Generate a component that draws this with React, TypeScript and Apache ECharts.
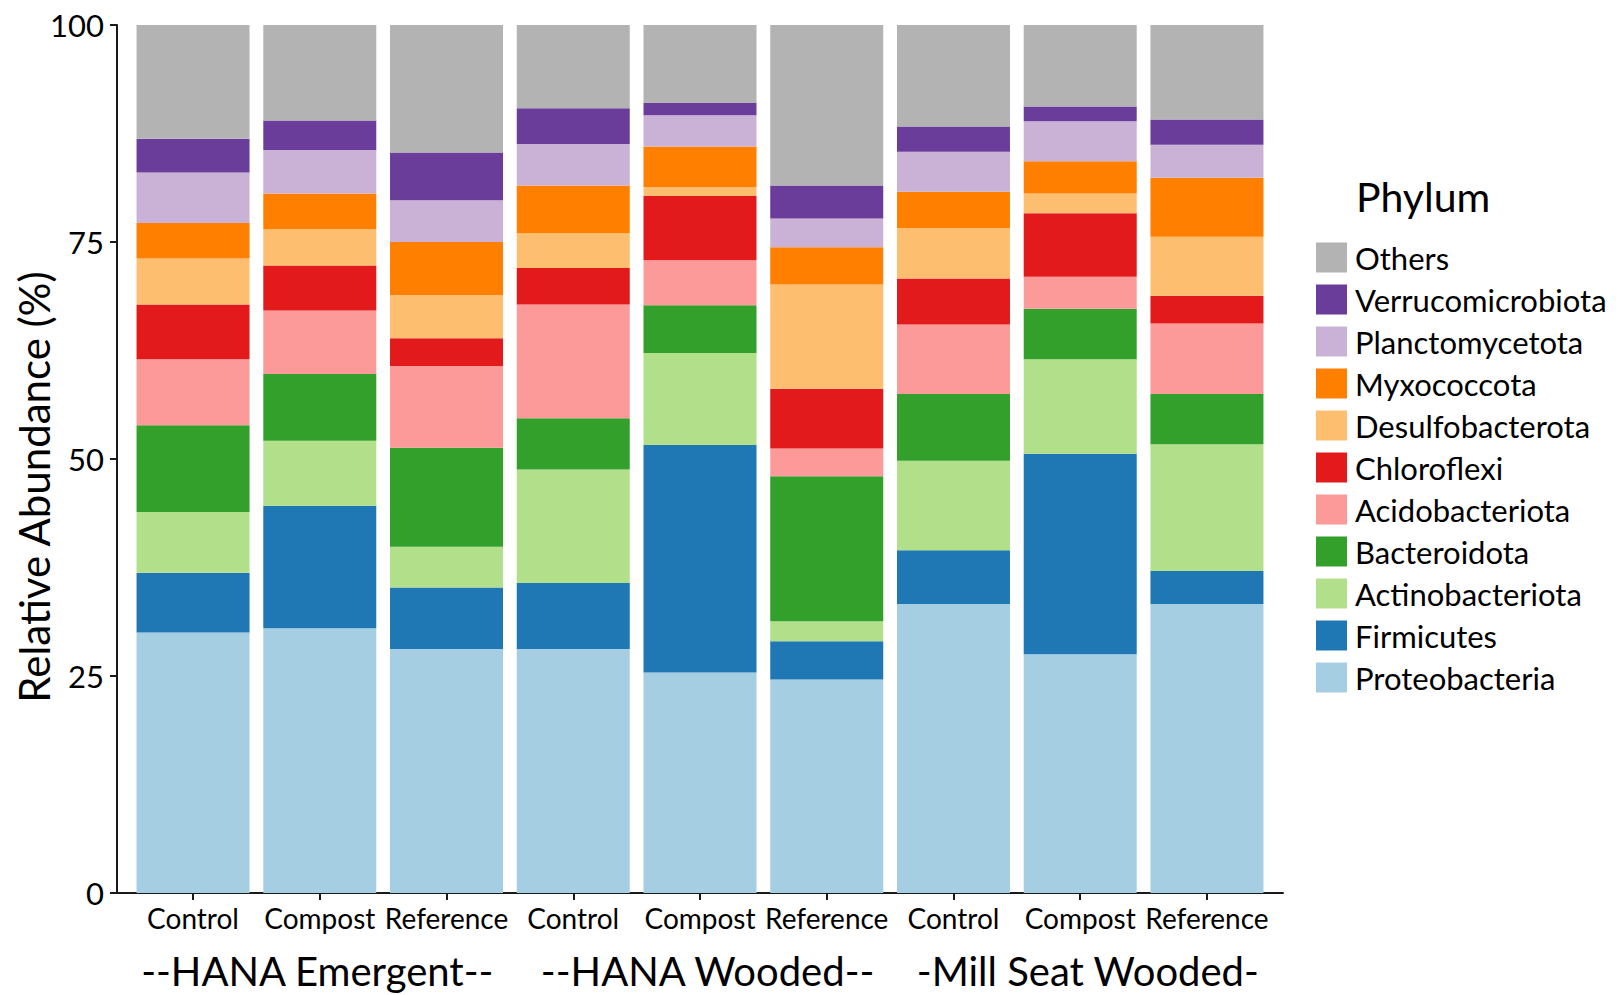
import React, { useEffect, useRef } from "react";
import * as echarts from "echarts";

// Samples along the x axis (three sites x three treatments)
const treatments = [
  "Control", "Compost", "Reference",
  "Control", "Compost", "Reference",
  "Control", "Compost", "Reference",
];
const sampleIds = treatments.map((t, i) => `${t}-${i}`);
const sites = ["--HANA Emergent--", "--HANA Wooded--", "-Mill Seat Wooded-"];
const yTicks = [0, 25, 50, 75, 100];

// Relative abundance (%) per phylum, one value per sample
const proteobacteria = [30.0, 30.5, 28.1, 28.1, 25.4, 24.6, 33.3, 27.5, 33.3];
const firmicutes = [6.9, 14.1, 7.1, 7.6, 26.2, 4.4, 6.2, 23.1, 3.8];
const actinobacteriota = [7.0, 7.5, 4.7, 13.1, 10.6, 2.3, 10.3, 10.9, 14.6];
const bacteroidota = [10.0, 7.7, 11.4, 5.9, 5.5, 16.7, 7.7, 5.8, 5.8];
const acidobacteriota = [7.6, 7.3, 9.4, 13.1, 5.2, 3.2, 8.0, 3.7, 8.1];
const chloroflexi = [6.3, 5.2, 3.2, 4.2, 7.4, 6.9, 5.3, 7.3, 3.2];
const desulfobacterota = [5.3, 4.2, 5.0, 4.0, 1.0, 12.0, 5.8, 2.3, 6.8];
const myxococcota = [4.1, 4.1, 6.1, 5.5, 4.7, 4.3, 4.2, 3.7, 6.8];
const planctomycetota = [5.8, 5.0, 4.8, 4.8, 3.6, 3.3, 4.6, 4.6, 3.8];
const verrucomicrobiota = [3.9, 3.4, 5.5, 4.1, 1.4, 3.8, 2.9, 1.7, 2.9];
const others = [13.1, 11.0, 14.7, 9.6, 9.0, 18.5, 11.7, 9.4, 10.9];

// Stack order, bottom to top
const phyla = [
  { name: "Proteobacteria", values: proteobacteria, color: "#A6CEE3" },
  { name: "Firmicutes", values: firmicutes, color: "#1F78B4" },
  { name: "Actinobacteriota", values: actinobacteriota, color: "#B2DF8A" },
  { name: "Bacteroidota", values: bacteroidota, color: "#33A02C" },
  { name: "Acidobacteriota", values: acidobacteriota, color: "#FB9A99" },
  { name: "Chloroflexi", values: chloroflexi, color: "#E31A1C" },
  { name: "Desulfobacterota", values: desulfobacterota, color: "#FDBF6F" },
  { name: "Myxococcota", values: myxococcota, color: "#FF7F00" },
  { name: "Planctomycetota", values: planctomycetota, color: "#CAB2D6" },
  { name: "Verrucomicrobiota", values: verrucomicrobiota, color: "#6A3D9A" },
  { name: "Others", values: others, color: "#B3B3B3" },
];

const FONT = "Lato, 'Open Sans', sans-serif";
const AXIS_COLOR = "#1a1a1a";

// Panel geometry: the discrete axis is padded by 0.6 of a band on each side
const PANEL_LEFT = 117;
const PANEL_TOP = 25;
const PANEL_WIDTH = 1166;
const PANEL_HEIGHT = 868;
const PAD = 0.6;
const BAND = PANEL_WIDTH / (treatments.length - 1 + 2 * PAD);
// Where each site caption sits along the sample axis (in band units)
const SITE_LABEL_AT = [1.98, 5.06, 8.06];

export default function App() {
  const ref = useRef<HTMLDivElement>(null);

  useEffect(() => {
    document.body.style.margin = "0";
    if (!ref.current) return;
    const chart = echarts.init(ref.current, null, { renderer: "svg" });
    const samplePositions = treatments.map((_, i) => i + 1);
    const xMin = 1 - PAD;
    const xMax = treatments.length + PAD;
    const siteFor = (v: number) => {
      let best = 0;
      SITE_LABEL_AT.forEach((p, i) => {
        if (Math.abs(p - v) < Math.abs(SITE_LABEL_AT[best] - v)) best = i;
      });
      return sites[best];
    };

    chart.setOption({
      animation: false,
      textStyle: { fontFamily: FONT },
      title: {
        text: "Phylum",
        left: 1351,
        top: 171,
        textStyle: { fontFamily: FONT, fontSize: 41, fontWeight: "normal", color: "#000" },
      },
      legend: {
        orient: "vertical",
        left: 1311,
        top: 237,
        itemWidth: 31,
        itemHeight: 30,
        itemGap: 11,
        icon: "rect",
        data: phyla.map((p) => p.name).reverse(),
        textStyle: { fontFamily: FONT, fontSize: 31, color: "#000", padding: [0, 0, 0, 3] },
      },
      grid: [
        // visible panel carrying the axes
        {
          left: PANEL_LEFT,
          top: PANEL_TOP,
          width: PANEL_WIDTH,
          height: PANEL_HEIGHT,
          outerBoundsMode: "none",
          containLabel: false,
        },
        // bar area: the category bands inside the padded panel
        {
          left: PANEL_LEFT + BAND * (PAD - 0.5),
          top: PANEL_TOP,
          width: BAND * treatments.length,
          height: PANEL_HEIGHT,
          outerBoundsMode: "none",
          containLabel: false,
        },
      ],
      xAxis: [
        {
          gridIndex: 0,
          type: "value",
          min: xMin,
          max: xMax,
          position: "bottom",
          splitLine: { show: false },
          axisLine: { show: true, onZero: false, lineStyle: { color: AXIS_COLOR, width: 2 } },
          axisTick: {
            show: true,
            length: 7,
            customValues: samplePositions,
            lineStyle: { color: AXIS_COLOR, width: 2 },
          },
          axisLabel: {
            customValues: samplePositions,
            formatter: (v: number) => treatments[Math.round(v) - 1] ?? "",
            margin: 11,
            fontSize: 28,
            color: "#000",
            fontFamily: FONT,
          },
        },
        {
          gridIndex: 0,
          type: "value",
          min: xMin,
          max: xMax,
          position: "bottom",
          splitLine: { show: false },
          axisLine: { show: false },
          axisTick: { show: false },
          axisLabel: {
            customValues: SITE_LABEL_AT,
            formatter: (v: number) => siteFor(v),
            margin: 58,
            fontSize: 40,
            lineHeight: 40,
            color: "#000",
            fontFamily: FONT,
          },
        },
        {
          gridIndex: 1,
          type: "category",
          data: sampleIds,
          show: false,
        },
      ],
      yAxis: [
        {
          gridIndex: 0,
          type: "value",
          min: yTicks[0],
          max: yTicks[yTicks.length - 1],
          interval: 25,
          splitLine: { show: false },
          axisLine: { show: true, lineStyle: { color: AXIS_COLOR, width: 2 } },
          axisTick: { show: true, length: 7, lineStyle: { color: AXIS_COLOR, width: 2 } },
          axisLabel: { fontSize: 31, color: "#000", margin: 13, fontFamily: FONT },
          name: "Relative Abundance (%)",
          nameLocation: "middle",
          nameGap: 62,
          nameMoveOverlap: false,
          nameTextStyle: { fontSize: 42, color: "#000", fontFamily: FONT, padding: [0, 56, 0, 0] },
        },
        {
          gridIndex: 1,
          type: "value",
          min: yTicks[0],
          max: yTicks[yTicks.length - 1],
          show: false,
        },
      ],
      series: phyla.map((p) => ({
        name: p.name,
        type: "bar",
        stack: "total",
        xAxisIndex: 2,
        yAxisIndex: 1,
        barWidth: Math.round(BAND * 0.895),
        itemStyle: { color: p.color },
        emphasis: { disabled: true },
        data: p.values,
      })),
    });

    return () => chart.dispose();
  }, []);

  return <div ref={ref} style={{ width: 1619, height: 995 }} />;
}
